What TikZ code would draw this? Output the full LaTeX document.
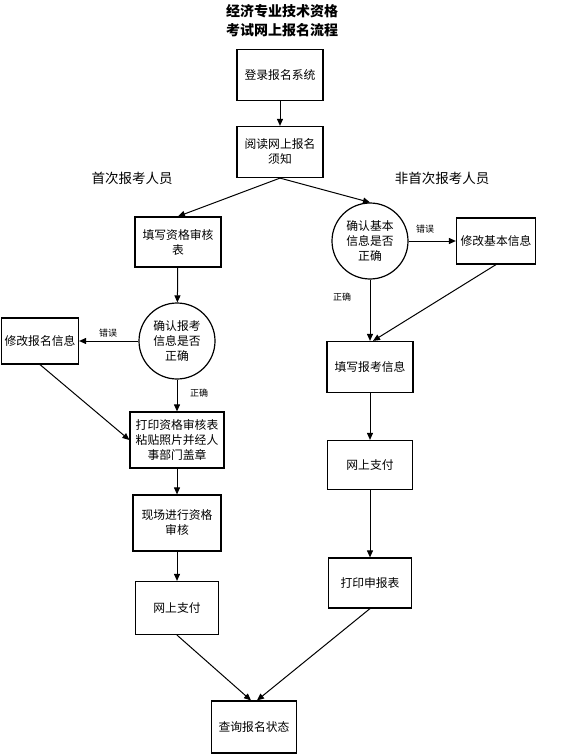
\documentclass[tikz,border=0pt]{standalone}
\usepackage{fontspec}
\setmainfont{Noto Sans CJK SC}
\usetikzlibrary{arrows.meta}

\begin{document}
\begin{tikzpicture}[x=1pt, y=-1pt,
  box/.style={
    draw, line width=1.2pt,
    minimum width=86pt, minimum height=51pt,
    align=center, inner sep=2pt, font=\fontsize{11.8}{15}\selectfont
  },
  check/.style={draw, circle, line width=1.2pt, minimum size=76pt,
    align=center, inner sep=0pt, font=\fontsize{11.8}{15}\selectfont},
  flow/.style={-{Triangle[width=6pt,length=7pt]}, line width=1pt},
  tag/.style={font=\fontsize{9}{11}\selectfont},
  head/.style={font=\fontsize{14}{17}\selectfont\bfseries}
]
  \useasboundingbox (0,0) rectangle (560,754);

  \node[head] (title1) at (282,11) {经济专业技术资格};
  \node[head] (title2) at (282,30) {考试网上报名流程};

  \node[box] (login)  at (280,75)  {登录报名系统};
  \node[box] (notice) at (280,152) {阅读网上报名\\须知};

  \node[font=\fontsize{13.5}{16}\selectfont] (first) at (132,178) {首次报考人员};
  \node[font=\fontsize{13.5}{16}\selectfont] (again) at (442,178) {非首次报考人员};

  % first-time applicants
  \node[box, minimum height=50pt] (fillq) at (178,242) {填写资格审核\\表};
  \node[check] (chk1) at (177,341) {确认报考\\信息是否\\正确};
  \node[box, minimum width=77pt, minimum height=46pt] (fixreg) at (40,341) {修改报名信息};
  \node[box, minimum width=94pt, minimum height=56pt] (printq) at (177,440) {打印资格审核表\\粘贴照片并经人\\事部门盖章};
  \node[box, minimum width=88pt, minimum height=56pt] (onsite) at (177,523) {现场进行资格\\审核};
  \node[box, minimum width=83pt, minimum height=53pt] (payl) at (177,608) {网上支付};

  % returning applicants
  \node[check] (chk2) at (370,241) {确认基本\\信息是否\\正确};
  \node[box, minimum width=79pt, minimum height=46pt] (fixbase) at (496,241) {修改基本信息};
  \node[box] (fillinfo) at (370,367) {填写报考信息};
  \node[box, minimum width=85pt, minimum height=49pt] (payr) at (370,465) {网上支付};
  \node[box, minimum width=83pt, minimum height=50pt] (printap) at (370,583) {打印申报表};

  \node[box, minimum width=85pt, minimum height=52pt] (query) at (254,727) {查询报名状态};

  \node[tag] (err1) at (108,333) {错误};
  \node[tag] (ok1)  at (199,393) {正确};
  \node[tag] (err2) at (425,229) {错误};
  \node[tag] (ok2)  at (342,297) {正确};

  \draw[flow] (login) -- (notice);
  \draw[flow] (notice.south) -- (fillq.north);
  \draw[flow] (notice.south) -- (chk2.north);
  \draw[flow] (fillq) -- (chk1);
  \draw[flow] (chk1) -- (fixreg);
  \draw[flow] (chk1) -- (printq);
  \draw[flow] (fixreg.south) -- (printq.west);
  \draw[flow] (printq) -- (onsite);
  \draw[flow] (onsite) -- (payl);
  \draw[flow] (payl.south) -- ([xshift=-3pt]query.north);
  \draw[flow] (chk2) -- (fixbase);
  \draw[flow] (chk2) -- (fillinfo);
  \draw[flow] (fixbase.south) -- ([xshift=3pt]fillinfo.north);
  \draw[flow] (fillinfo) -- (payr);
  \draw[flow] (payr) -- (printap);
  \draw[flow] (printap.south) -- ([xshift=3pt]query.north);
\end{tikzpicture}
\end{document}
